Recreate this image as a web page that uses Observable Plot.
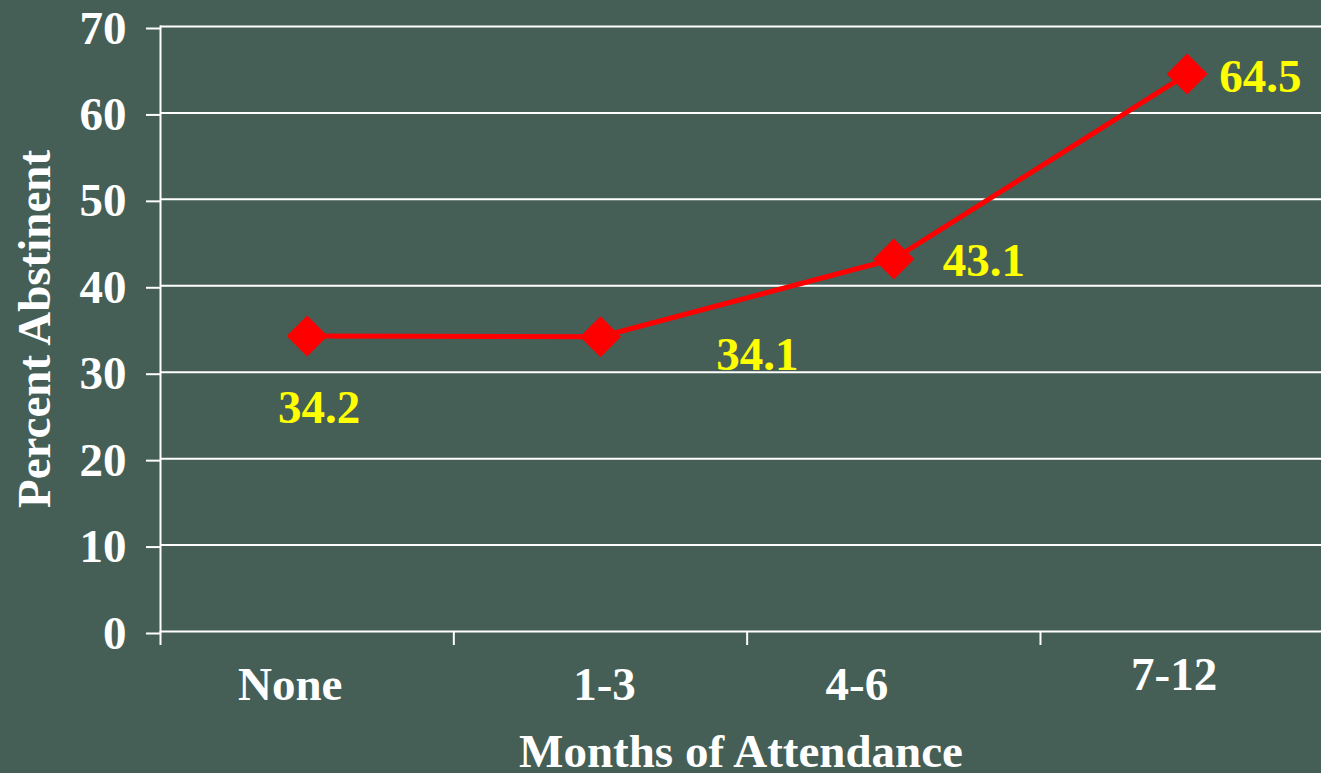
<!DOCTYPE html>
<html>
<head>
<meta charset="utf-8">
<script src="https://cdn.jsdelivr.net/npm/d3@7"></script>
<script src="https://cdn.jsdelivr.net/npm/@observablehq/plot@0.6"></script>
<style>
  html, body { margin: 0; padding: 0; background: #455F56; }
  svg { display: block; }
  svg, svg text, svg tspan { font-family: "Liberation Serif", "Times New Roman", Times, serif !important; font-weight: bold; }
</style>
</head>
<body>
<div id="chart"></div>
<script>
const categories = ["None", "1-3", "4-6", "7-12"];
const values = [34.2, 34.1, 43.1, 64.5];
const yTicks = [0, 10, 20, 30, 40, 50, 60, 70];

const data = categories.map((c, i) => ({cat: c, pos: i + 0.5, value: values[i]}));

const font = "Liberation Serif";
const label = (i, opts) => Plot.text([data[i]], {
  x: "pos", y: "value", text: d => d.value.toFixed(1),
  fill: "#FFFF00", fontSize: 47, fontWeight: "bold", fontFamily: font, ...opts
});
const catLabel = (i, opts) => Plot.axisX([data[i].pos], {
  tickSize: 0, tickPadding: 35, fontFamily: font, tickFormat: () => categories[i], label: null, ...opts
});

const chart = Plot.plot({
  width: 1321,
  height: 773,
  marginTop: 26,
  marginBottom: 142,
  marginLeft: 160,
  marginRight: 0,
  style: {background: "#455F56", color: "white", fontFamily: font, fontSize: "47px", fontWeight: "bold"},
  x: {domain: [0, 4], range: [160, 1333.3]},
  y: {domain: [0, 70]},
  marks: [
    Plot.gridY(yTicks, {stroke: "white", strokeOpacity: 1, strokeWidth: 2}),
    Plot.frame({anchor: "left", stroke: "white", strokeWidth: 2}),
    Plot.axisY(yTicks, {tickSize: 14, tickPadding: 20, stroke: "white", strokeWidth: 2, dy: 2, fontFamily: font,
      label: "Percent Abstinent", labelAnchor: "center", labelArrow: "none", labelOffset: 144}),
    Plot.axisX([0, 1, 2, 3], {tickSize: 14, stroke: "white", strokeWidth: 2, tickFormat: () => "", label: null}),
    catLabel(0, {dx: -17}),
    catLabel(1, {dx: 4}),
    catLabel(2, {dx: -37}),
    catLabel(3, {dx: -13, tickPadding: 25}),
    Plot.axisX([], {tickSize: 0, fontFamily: font,
      label: "Months of Attendance", labelAnchor: "center", labelArrow: "none", labelOffset: 135}),
    Plot.line(data, {x: "pos", y: "value", stroke: "#FF0000", strokeWidth: 5}),
    Plot.dot(data, {x: "pos", y: "value", symbol: "diamond2", r: 18.5, fill: "#FF0000", stroke: "none"}),
    label(0, {dx: 12, dy: 72, textAnchor: "middle"}),
    label(1, {dx: 157, dy: 18, textAnchor: "middle"}),
    label(2, {dx: 49, dy: 2, textAnchor: "start"}),
    label(3, {dx: 32, dy: 3, textAnchor: "start"})
  ]
});
document.getElementById("chart").append(chart);
</script>
</body>
</html>
